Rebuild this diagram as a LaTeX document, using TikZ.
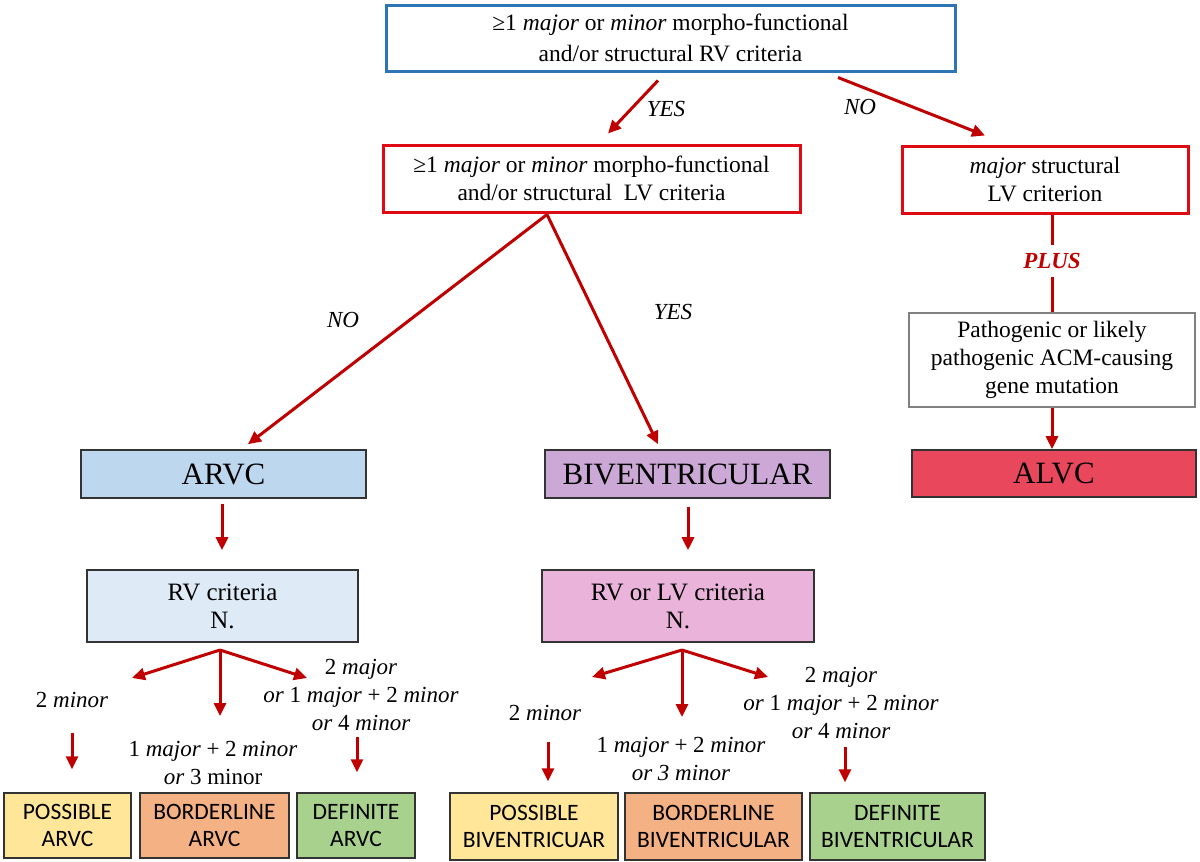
\documentclass[tikz,border=0pt]{standalone}
\usepackage{fontspec}
\setmainfont{Liberation Serif}
\newfontfamily\calib{Carlito}
\usetikzlibrary{arrows.meta,calc}
\definecolor{arrred}{HTML}{C00000}
\definecolor{boxred}{HTML}{E00A14}
\definecolor{topblue}{HTML}{2E75B6}
\definecolor{arvcfill}{HTML}{BDD7EE}
\definecolor{rvfill}{HTML}{DEEBF7}
\definecolor{bivfill}{HTML}{CBA8D6}
\definecolor{rvlvfill}{HTML}{E9B3DA}
\definecolor{alvcfill}{HTML}{E9475C}
\definecolor{possfill}{HTML}{FFE699}
\definecolor{bordfill}{HTML}{F4B183}
\definecolor{deffill}{HTML}{A9D18E}
\definecolor{edge}{HTML}{333333}
\begin{document}
\begin{tikzpicture}[x=1pt,y=-1pt,
  box/.style={draw, inner sep=0pt, align=center, text=black},
  txt/.style={font=\fontsize{23.5}{28}\selectfont},
  bigtxt/.style={font=\fontsize{31}{34}\selectfont},
  smalltxt/.style={font=\calib\fontsize{23.5}{27}\selectfont},
  redbox/.style={box, draw=boxred, line width=3pt, txt},
  catbox/.style={box, draw=edge, line width=1.6pt, bigtxt},
  critbox/.style={box, draw=edge, line width=1.6pt, font=\fontsize{25}{28}\selectfont},
  resbox/.style={box, draw=edge, line width=1.4pt, smalltxt, minimum height=66pt},
  arr/.style={draw=arrred, line width=3pt, -{Triangle[length=13pt,width=12pt]}},
  redline/.style={draw=arrred, line width=3pt},
  lab/.style={inner sep=0pt, align=center, font=\fontsize{23}{28}\selectfont\itshape}
]
\useasboundingbox[fill=white] (0,0) rectangle (1200,862);

% main boxes
\node[box, draw=topblue, line width=3pt, font=\fontsize{23.5}{31}\selectfont,
      minimum width=569pt, minimum height=66pt] (top) at (670.5,38)
  {≥1 \textit{major} or \textit{minor} morpho-functional\\ and/or structural RV criteria};
\node[redbox, minimum width=417pt, minimum height=67pt] (lv) at (591.5,178.5)
  {≥1 \textit{major} or \textit{minor} morpho-functional\\ and/or structural~~LV criteria};
\node[redbox, minimum width=286pt, minimum height=67pt] (ms) at (1045,179.5)
  {\textit{major} structural\\ LV criterion};
\node[box, draw=gray, line width=1.6pt, txt, minimum width=286pt, minimum height=94pt] (path) at (1052,360)
  {Pathogenic or likely\\ pathogenic ACM-causing\\ gene mutation};
\node[catbox, fill=alvcfill, minimum width=284pt, minimum height=47pt] (alvc) at (1054,473.5) {ALVC};
\node[catbox, fill=arvcfill, minimum width=285pt, minimum height=48pt] (arvc) at (223.5,474) {ARVC};
\node[catbox, fill=bivfill, minimum width=285pt, minimum height=48pt] (biv) at (687.5,474) {BIVENTRICULAR};
\node[critbox, fill=rvfill, minimum width=271pt, minimum height=72pt] (rv) at (222.5,606) {RV criteria\\ N.};
\node[critbox, fill=rvlvfill, minimum width=272pt, minimum height=72pt] (rvlv) at (678,606) {RV or LV criteria\\ N.};

% result boxes
\node[resbox, fill=possfill, minimum width=127pt, minimum height=65pt] (pa) at (67.5,825.5) {POSSIBLE\\ ARVC};
\node[resbox, fill=bordfill, minimum width=149pt, minimum height=65pt] (ba) at (214.5,825.5) {BORDERLINE\\ ARVC};
\node[resbox, fill=deffill, minimum width=118pt, minimum height=65pt] (da) at (356,825.5) {DEFINITE\\ ARVC};
\node[resbox, fill=possfill, minimum width=168pt, minimum height=67pt] (pb) at (534,826.5) {POSSIBLE\\ BIVENTRICUAR};
\node[resbox, fill=bordfill, minimum width=177pt, minimum height=67pt] (bb) at (713.5,826.5) {BORDERLINE\\ BIVENTRICULAR};
\node[resbox, fill=deffill, minimum width=175pt, minimum height=67pt] (db) at (897.5,826.5) {DEFINITE\\ BIVENTRICULAR};

% top connectors
\draw[arr] ([xshift=-12.5pt,yshift=-8pt]top.south) -- ([xshift=16.5pt,yshift=10pt]lv.north);
\draw[arr] ([xshift=167.5pt,yshift=-5pt]top.south) -- ([xshift=-60pt,yshift=9pt]ms.north);
\node[lab] (yes1) at (666,109) {YES};
\node[lab] (no1) at (860,107) {NO};

\draw[arr] ([xshift=-44.5pt,yshift=-1pt]lv.south) -- ([xshift=24.5pt,yshift=5pt]arvc.north);
\draw[arr] ([xshift=-44.5pt,yshift=-1pt]lv.south) -- ([xshift=-29.5pt,yshift=5pt]biv.north);
\node[lab] (no2) at (343,320) {NO};
\node[lab] (yes2) at (673,312) {YES};

% right column
\node[inner sep=0pt, minimum height=32pt, text=arrred, font=\fontsize{23}{28}\selectfont\bfseries\itshape] (plus) at (1052,261) {PLUS};
\draw[redline] (ms.south -| path.north) -- (plus.north);
\draw[redline] (plus.south) -- (path.north);
\draw[arr] (path.south) -- (path.south |- alvc.north);

% category to criteria
\draw[arr] ([xshift=-1.5pt,yshift=-5pt]arvc.south) -- ($(arvc.south |- rv.north)+(-1.5,-19)$);
\draw[arr] ([xshift=0.5pt,yshift=-8pt]biv.south) -- ($(biv.south |- rvlv.north)+(0.5,-19)$);

% ARVC branches
\coordinate (ro) at (220,650);
\coordinate (rl) at (132,678);
\coordinate (rm) at (220,716);
\coordinate (rr) at (307,678);
\draw[arr] (ro) -- (rl);
\draw[arr] (ro) -- (rm);
\draw[arr] (ro) -- (rr);
\node[lab] (a2min) at (72,700) {\upshape 2 \itshape minor};
\node[lab] (amid) at (213,763) {\upshape 1 \itshape major \upshape + 2 \itshape minor\\ or \upshape 3 minor};
\node[lab] (aright) at (361,695) {\upshape 2 \itshape major\\ or \upshape 1 \itshape major \upshape + 2 \itshape minor\\ or \upshape 4 \itshape minor};
\coordinate (ps) at (72,733);
\draw[arr] (ps) -- ($(pa.north)+(4.5,-23)$);
\coordinate (ds) at (357,737);
\draw[arr] (ds) -- ($(da.north)+(1,-20)$);

% BIV branches
\coordinate (bo) at (682,650);
\coordinate (bl) at (592,677);
\coordinate (bm) at (682,717);
\coordinate (br) at (768,677);
\draw[arr] (bo) -- (bl);
\draw[arr] (bo) -- (bm);
\draw[arr] (bo) -- (br);
\node[lab] (b2min) at (545,713) {\upshape 2 \itshape minor};
\node[lab] (bmid) at (681,759) {\upshape 1 \itshape major \upshape + 2 \itshape minor\\ or 3 minor};
\node[lab] (bright) at (841,703) {\upshape 2 \itshape major\\ or \upshape 1 \itshape major \upshape + 2 \itshape minor\\ or \upshape 4 \itshape minor};
\coordinate (pbs) at (548,742);
\draw[arr] (pbs) -- ($(pb.north)+(14,-11)$);
\coordinate (dbs) at (845,747);
\draw[arr] (dbs) -- ($(db.north)+(-52.5,-10)$);
\end{tikzpicture}
\end{document}
